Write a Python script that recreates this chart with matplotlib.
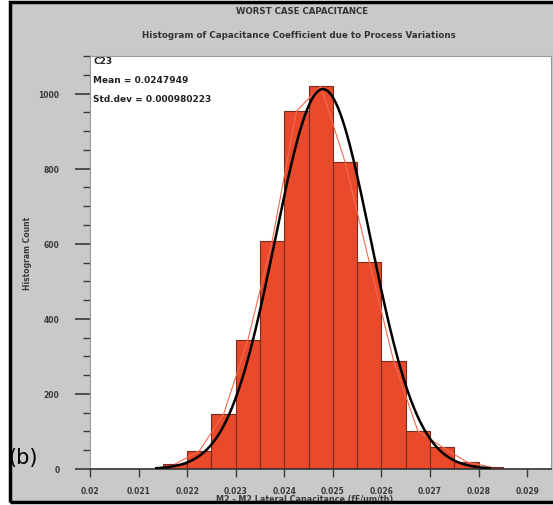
import numpy as np
import matplotlib
matplotlib.use("Agg")
import matplotlib.pyplot as plt
from matplotlib.patches import Rectangle
from matplotlib.ticker import FixedLocator, MultipleLocator

# Histogram data (bin width 0.0005)
bin_edges = [0.0215, 0.0220, 0.0225, 0.0230, 0.0235, 0.0240, 0.0245, 0.0250,
             0.0255, 0.0260, 0.0265, 0.0270, 0.0275, 0.0280, 0.0285]
counts = [13, 48, 146, 344, 607, 953, 1020, 818, 551, 288, 101, 59, 19, 5]

mean_val = 0.0247949
std_val = 0.000980223

x_ticks = [0.020, 0.021, 0.022, 0.023, 0.024, 0.025, 0.026, 0.027, 0.028, 0.029]
x_tick_labels = ["0.02", "0.021", "0.022", "0.023", "0.024", "0.025",
                 "0.026", "0.027", "0.028", "0.029"]
y_ticks = [0, 200, 400, 600, 800, 1000]

W, H = 553, 506
fig = plt.figure(figsize=(W / 100, H / 100), dpi=100)
fig.patch.set_facecolor("white")

# grey panel + black frame
fig.add_artist(Rectangle((10 / W, 3 / H), 1.0, 500 / H, transform=fig.transFigure,
                         facecolor="#c9c9c9", edgecolor="none", zorder=-5))
fig.add_artist(Rectangle((10 / W, 3 / H), 1.0, 500 / H, transform=fig.transFigure,
                         facecolor="none", edgecolor="black", linewidth=2.5, zorder=20))

ax = fig.add_axes([90 / W, 1 - 470 / H, 461 / W, 413 / H])
ax.set_facecolor("white")

edges = np.array(bin_edges)
widths = np.diff(edges)
ax.bar(edges[:-1], counts, width=widths, align="edge", color="#ea4a2c",
       edgecolor="#7a2c1c", linewidth=0.8, zorder=2)

# frequency polygon through bin centres
centers = edges[:-1] + widths / 2
ax.plot(centers, counts, color="#f46a50", linewidth=0.8, zorder=3)

# normal fit from the stated mean / std
n_total = sum(counts)
xs = np.linspace(mean_val - 3.5 * std_val, mean_val + 3.5 * std_val, 300)
pdf = np.exp(-0.5 * ((xs - mean_val) / std_val) ** 2) / (std_val * np.sqrt(2 * np.pi))
ax.plot(xs, n_total * widths[0] * pdf, color="black", linewidth=1.8, zorder=4)

ax.set_xlim(0.020, 0.02949)
ax.set_ylim(0, 1100)

ax.xaxis.set_major_locator(FixedLocator(x_ticks))
ax.set_xticklabels(x_tick_labels)
ax.yaxis.set_major_locator(FixedLocator(y_ticks))
ax.yaxis.set_minor_locator(MultipleLocator(50))

tick_col = "#3a3a3a"
ax.tick_params(axis="x", which="major", direction="out", length=6, width=1.0,
               color=tick_col, labelsize=5.5, pad=6, labelcolor=tick_col)
ax.tick_params(axis="y", which="major", direction="out", length=11, width=1.2,
               color=tick_col, labelsize=5.5, pad=11, labelcolor=tick_col)
ax.tick_params(axis="y", which="minor", direction="out", length=5, width=1.0,
               color=tick_col)
for lab in ax.get_xticklabels() + ax.get_yticklabels():
    lab.set_fontweight("bold")

for side in ["top", "right", "left"]:
    ax.spines[side].set_color("#9a9a9a")
    ax.spines[side].set_linewidth(0.8)
ax.spines["bottom"].set_color("#333333")
ax.spines["bottom"].set_linewidth(1.2)

# stats text
stats = ["C23", "Mean = 0.0247949", "Std.dev = 0.000980223"]
for i, s in enumerate(stats):
    ax.text(0.007, 0.988 - i * 0.045, s, transform=ax.transAxes, fontsize=6.5,
            fontweight="bold", color="#222222", va="center", ha="left", zorder=5)

# titles and labels
fig.text(302 / W, 1 - 12 / H, "WORST CASE CAPACITANCE", ha="center", va="center",
         fontsize=6.2, fontweight="bold", color="#333333")
fig.text(299 / W, 1 - 35 / H, "Histogram of Capacitance Coefficient due to Process Variations",
         ha="center", va="center", fontsize=6.3, fontweight="bold", color="#333333")
fig.text(28 / W, 1 - 253 / H, "Histogram Count", rotation=90, ha="center", va="center",
         fontsize=5.5, fontweight="bold", color="#3a3a3a")
fig.text(305 / W, 1 - 500 / H, "M2 - M2 Lateral Capacitance (fF/um/th)", ha="center",
         va="center", fontsize=5.8, fontweight="bold", color="#3a3a3a")
fig.text(8 / W, 1 - 458 / H, "(b)", ha="left", va="center", fontsize=15,
         color="black")

fig.savefig("out.png", dpi=100)
